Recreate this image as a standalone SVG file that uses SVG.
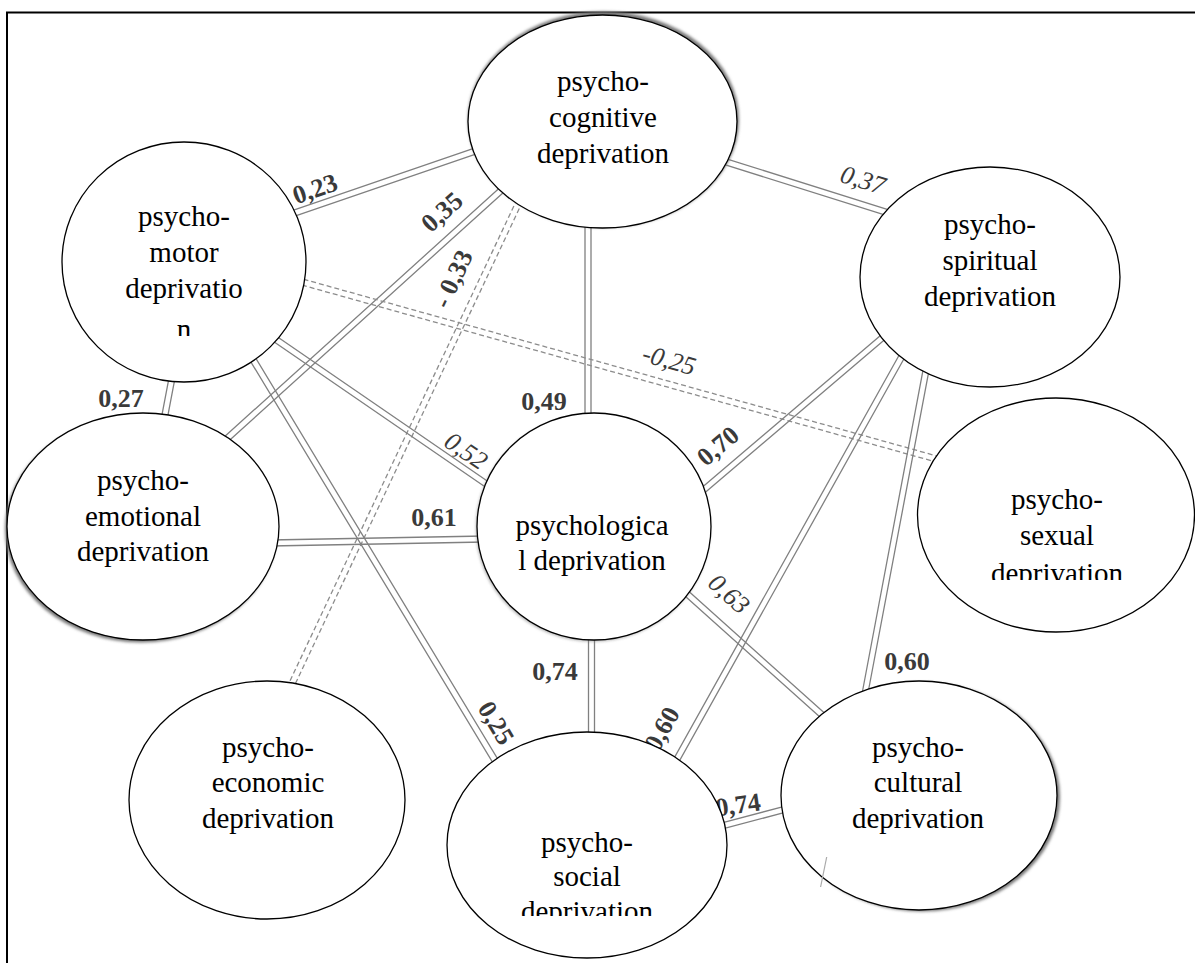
<svg xmlns="http://www.w3.org/2000/svg" width="1195" height="963" viewBox="0 0 1195 963">
<style>
.bg{fill:#fff}
.frame{fill:none;stroke:#000;stroke-width:2}
.node{fill:#fff;stroke:#000;stroke-width:1.3}
.shadow{fill:#777;filter:url(#blur)}
.t{font-family:"Liberation Serif","Times New Roman",serif;font-size:29px;text-anchor:middle;fill:#000}
.lb{font-family:"Liberation Serif","Times New Roman",serif;font-size:26px;font-weight:bold;fill:#3a3a3a;text-anchor:middle;dominant-baseline:central}
.it{font-style:italic;font-weight:normal}
.ln{stroke:#808080;stroke-width:1.3;fill:none}
.dash{stroke:#8c8c8c;stroke-dasharray:5 3}
.faint{stroke:#aaa;stroke-width:1.2;fill:none}
</style>
<defs>
<filter id="blur" x="-10%" y="-10%" width="120%" height="120%"><feGaussianBlur stdDeviation="1.8"/></filter>
<clipPath id="clipMotor"><rect x="0" y="0" width="1195" height="336"/></clipPath>
<clipPath id="clipSexual"><rect x="0" y="0" width="1195" height="580"/></clipPath>
<clipPath id="clipSocial"><rect x="0" y="0" width="1195" height="916"/></clipPath>
</defs>
<rect class="bg" x="0" y="0" width="1195" height="963"/>
<path class="frame" d="M7,963 V12.5 H1195"/>

<g id="connectors">
<g id="c-motor-cognitive"><path class="ln" d="M281,220.8 L491,148.8 M279,215.2 L489,143.2"/></g>
<g id="c-cognitive-spiritual"><path class="ln" d="M719.1,162.9 L894.1,217.9 M720.9,157.1 L895.9,212.1"/></g>
<g id="c-cognitive-emotional"><path class="ln" d="M503,184.8 L220,440.8 M507,189.2 L224,445.2"/></g>
<g id="c-cognitive-economic"><path class="ln dash" d="M517.3,198.7 L287.3,686.7 M522.7,201.3 L292.7,689.3"/></g>
<g id="c-cognitive-psychological"><path class="ln" d="M585,225 L585,418 M591,225 L591,418"/></g>
<g id="c-motor-sexual"><path class="ln dash" d="M294.2,282.9 L939.2,462.9 M295.8,277.1 L940.8,457.1"/></g>
<g id="c-motor-psychological"><path class="ln" d="M263.3,334.5 L493.3,492.5 M266.7,329.5 L496.7,487.5"/></g>
<g id="c-motor-social"><path class="ln" d="M237.4,339.6 L499.4,773.6 M242.6,336.4 L504.6,770.4"/></g>
<g id="c-motor-emotional"><path class="ln" d="M169.1,377.4 L161.1,419.4 M174.9,378.6 L166.9,420.6"/></g>
<g id="c-emotional-psychological"><path class="ln" d="M270.1,546 L485.1,542 M269.9,540 L484.9,536"/></g>
<g id="c-spiritual-psychological"><path class="ln" d="M893.1,324.7 L698.1,490.7 M896.9,329.3 L701.9,495.3"/></g>
<g id="c-spiritual-social"><path class="ln" d="M903.4,347.5 L664.4,775.5 M908.6,350.5 L669.6,778.5"/></g>
<g id="c-spiritual-cultural"><path class="ln" d="M924.1,364.4 L860.1,704 M929.9,365.6 L865.9,704"/></g>
<g id="c-psychological-cultural"><path class="ln" d="M683,594.2 L828,724.2 M687,589.8 L832,719.8"/></g>
<g id="c-psychological-social"><path class="ln" d="M588.5,636 L588.5,736 M594.5,636 L594.5,736"/></g>
<g id="c-social-cultural"><path class="ln" d="M718.8,829.9 L786.8,811.9 M717.2,824.1 L785.2,806.1"/></g>

<text class="lb" transform="translate(315,189) rotate(-19)">0,23</text>
<text class="lb it" transform="translate(863,180) rotate(17)">0,37</text>
<text class="lb" transform="translate(442,212) rotate(-42)">0,35</text>
<text class="lb" transform="translate(453,279) rotate(-65)">- 0,33</text>
<text class="lb" x="544" y="401">0,49</text>
<text class="lb it" transform="translate(669,360) rotate(15.6)">-0,25</text>
<text class="lb it" transform="translate(466,451) rotate(34)">0,52</text>
<text class="lb" transform="translate(496,723) rotate(59)">0,25</text>
<text class="lb" x="121" y="398">0,27</text>
<text class="lb" x="434" y="517">0,61</text>
<text class="lb" transform="translate(718,446) rotate(-40)">0,70</text>
<text class="lb" transform="translate(662,729) rotate(-61)">0,60</text>
<text class="lb" x="907" y="661">0,60</text>
<text class="lb it" transform="translate(729,594) rotate(42)">0,63</text>
<text class="lb" x="555" y="671">0,74</text>
<text class="lb" transform="translate(738,805) rotate(-8)">0,74</text>
</g>

<g id="node-cognitive">
<ellipse class="shadow" cx="603.5" cy="119.5" rx="135.5" ry="108"/>
<ellipse class="node" cx="602.5" cy="121.5" rx="134.5" ry="106.5"/>
<text class="t" x="603" y="91">psycho-</text>
<text class="t" x="603" y="127">cognitive</text>
<text class="t" x="603" y="163">deprivation</text>
</g>
<g id="node-motor">
<ellipse class="node" cx="184" cy="262" rx="122" ry="120"/>
<text class="t" x="184" y="226">psycho-</text>
<text class="t" x="184" y="262">motor</text>
<text class="t" x="184" y="298">deprivatio</text>
<text class="t" x="184" y="339" clip-path="url(#clipMotor)">n</text>
</g>
<g id="node-emotional">
<ellipse class="shadow" cx="141" cy="529" rx="136" ry="113.5"/>
<ellipse class="node" cx="143" cy="526.5" rx="136" ry="113.5"/>
<text class="t" x="143" y="490">psycho-</text>
<text class="t" x="143" y="525.5">emotional</text>
<text class="t" x="143" y="561">deprivation</text>
</g>
<g id="node-psychological">
<ellipse class="shadow" cx="593" cy="528" rx="117" ry="113.5" opacity="0.6"/>
<ellipse class="node" cx="594" cy="526.5" rx="117" ry="113.5"/>
<text class="t" x="592" y="535">psychologica</text>
<text class="t" x="592" y="570">l deprivation</text>
</g>
<g id="node-spiritual">
<ellipse class="node" cx="990" cy="277" rx="130" ry="110"/>
<text class="t" x="990" y="234">psycho-</text>
<text class="t" x="990" y="270">spiritual</text>
<text class="t" x="990" y="306">deprivation</text>
</g>
<g id="node-sexual">
<ellipse class="node" cx="1056" cy="515" rx="138.5" ry="117"/>
<text class="t" x="1057" y="509">psycho-</text>
<text class="t" x="1057" y="545">sexual</text>
<text class="t" x="1057" y="583" clip-path="url(#clipSexual)">deprivation</text>
</g>
<g id="node-economic">
<ellipse class="node" cx="267" cy="800" rx="138" ry="119"/>
<text class="t" x="268" y="757">psycho-</text>
<text class="t" x="268" y="792">economic</text>
<text class="t" x="268" y="828">deprivation</text>
</g>
<g id="node-social">
<ellipse class="node" cx="587" cy="845" rx="140" ry="113"/>
<text class="t" x="587" y="852">psycho-</text>
<text class="t" x="587" y="886">social</text>
<text class="t" x="587" y="921" clip-path="url(#clipSocial)">deprivation</text>
</g>
<g id="node-cultural">
<ellipse class="shadow" cx="922" cy="797" rx="138" ry="114.5"/>
<ellipse class="node" cx="919" cy="795.5" rx="138" ry="114.5"/>
<text class="t" x="918" y="757">psycho-</text>
<text class="t" x="918" y="792">cultural</text>
<text class="t" x="918" y="828">deprivation</text>
</g>

<g id="connector-overlay">
<path class="faint" d="M826.7,857 L820.6,887"/>
</g>
</svg>
